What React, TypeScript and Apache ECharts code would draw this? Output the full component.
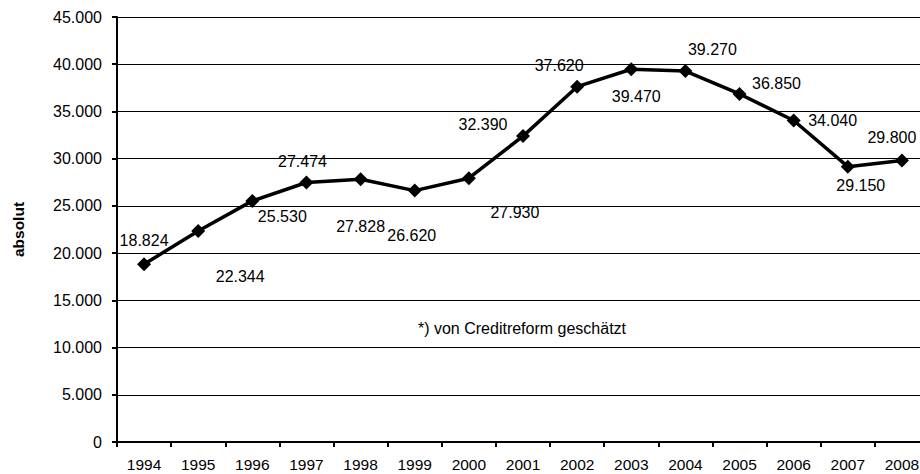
import React, { useEffect, useRef } from "react";
import * as echarts from "echarts";

const years = ["1994","1995","1996","1997","1998","1999","2000","2001","2002","2003","2004","2005","2006","2007","2008"];
const values = [18824, 22344, 25530, 27474, 27828, 26620, 27930, 32390, 37620, 39470, 39270, 36850, 34040, 29150, 29800];
const labelOffsets: [number, number][] = [
  [0, -24], [42, 46], [30, 16], [-4, -21], [0, 47], [-3, 45], [46, 34], [-40, -12],
  [-18, -21], [5, 27], [27, -22], [37, -10], [39, 0], [13, 19], [-10, -23],
];
const yTicks = { min: 0, max: 45000, interval: 5000 };
const note = "*) von Creditreform geschätzt";
const yName = "absolut";

const fmt = (v: number) => String(v).replace(/\B(?=(\d{3})+(?!\d))/g, ".");

export default function App() {
  const ref = useRef<HTMLDivElement>(null);
  useEffect(() => {
    if (!ref.current) return;
    const chart = echarts.init(ref.current, null, { renderer: "svg" });
    const font = "'Liberation Sans', Arial, sans-serif";
    chart.setOption({
      animation: false,
      textStyle: { fontFamily: font },
      grid: { left: 117, right: 0, top: 17, bottom: 32 },
      xAxis: {
        type: "category",
        data: years,
        boundaryGap: true,
        axisLine: { lineStyle: { color: "#000", width: 2 } },
        axisTick: { show: true, length: 5, lineStyle: { color: "#000", width: 2 } },
        axisLabel: { color: "#000", fontSize: 15.5, fontFamily: font, margin: 14 },
        splitLine: { show: false },
      },
      yAxis: {
        type: "value",
        min: yTicks.min,
        max: yTicks.max,
        interval: yTicks.interval,
        name: yName,
        nameLocation: "middle",
        nameGap: 99,
        nameRotate: 90,
        nameTextStyle: { color: "#000", fontWeight: "bold", fontSize: 15.5, fontFamily: font, verticalAlign: "middle" },
        axisLine: { show: true, lineStyle: { color: "#000", width: 2 } },
        axisTick: { show: true, length: 5, lineStyle: { color: "#000", width: 2 } },
        axisLabel: { color: "#000", fontSize: 16, fontFamily: font, margin: 15, formatter: (v: number) => fmt(v) },
        splitLine: { show: true, lineStyle: { color: "#000", width: 1 } },
      },
      series: [
        {
          type: "line",
          data: values.map((v, i) => ({
            value: v,
            label: { offset: labelOffsets[i] },
          })),
          smooth: false,
          symbol: "diamond",
          symbolSize: 14,
          itemStyle: { color: "#000" },
          lineStyle: { color: "#000", width: 3.5 },
          label: {
            show: true,
            position: "inside",
            color: "#000",
            fontSize: 16,
            fontFamily: font,
            formatter: (p: any) => fmt(p.value),
          },
        },
      ],
      graphic: [
        {
          type: "text",
          x: 522,
          y: 328,
          style: { text: note, fill: "#000", font: `16px ${font}`, textAlign: "center", textVerticalAlign: "middle" },
        },
      ],
    });
    return () => chart.dispose();
  }, []);
  return (
    <div style={{ position: "fixed", left: 0, top: 0, width: 920, height: 474, overflow: "hidden", background: "#fff" }}>
      <div ref={ref} style={{ width: 929, height: 474 }} />
    </div>
  );
}
